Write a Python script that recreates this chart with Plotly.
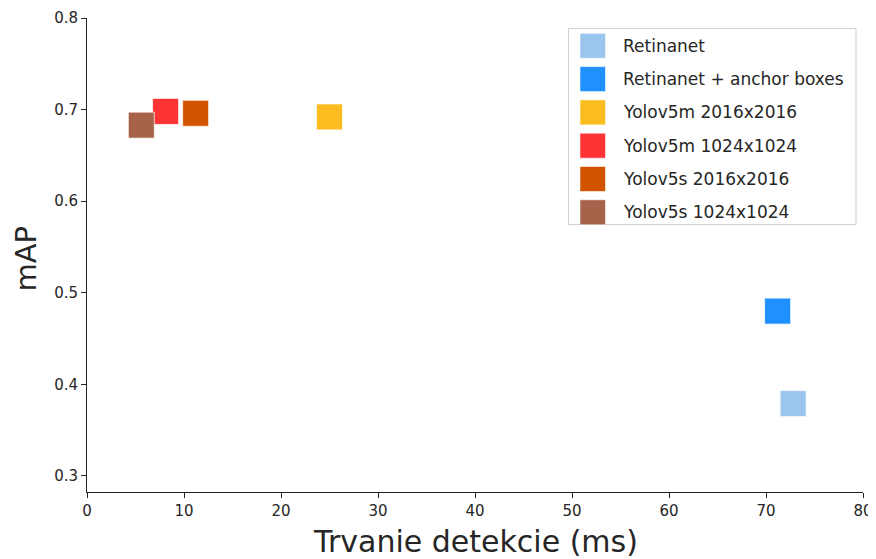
import plotly.graph_objects as go

names = ["Retinanet", "Retinanet + anchor boxes", "Yolov5m 2016x2016",
         "Yolov5m 1024x1024", "Yolov5s 2016x2016", "Yolov5s 1024x1024"]
det_time_ms = [72.8, 71.2, 25.0, 8.1, 11.2, 5.6]
map_values = [0.379, 0.480, 0.692, 0.698, 0.696, 0.683]
colors = ["#9BC5EC", "#1E90FF", "#FBBC1F", "#FF3333", "#D35400", "#A6634A"]
x_ticks = [0, 10, 20, 30, 40, 50, 60, 70, 80]
y_ticks = [0.3, 0.4, 0.5, 0.6, 0.7, 0.8]
x_title = "Trvanie detekcie (ms)"
y_title = "mAP"

# page body has an 8px margin; figure is placed at (8, 8)
OFF = 8
W, H = 876 - OFF, 559 - OFF
L, R, T, B = 87 - OFF, 13, 18 - OFF, 67
pw, ph = W - L - R, H - T - B

def px(x):
    # x in screenshot pixels -> paper coordinate
    return (x - OFF - L) / pw

def py(y):
    return (H - B - (y - OFF)) / ph

fig = go.Figure()
for n, x, y, c in zip(names, det_time_ms, map_values, colors):
    fig.add_trace(go.Scatter(
        x=[x], y=[y], mode="markers", name=n,
        marker=dict(symbol="square", size=26, color=c,
                    line=dict(width=1, color="rgba(255,255,255,0.7)")),
        showlegend=False,
    ))

shapes = [dict(type="rect", xref="paper", yref="paper",
               x0=px(568.5), x1=px(856), y0=py(224.5), y1=py(28.5),
               line=dict(color="#D0D0D0", width=1), fillcolor="white")]
annotations = []
row0, step = 45.8, 33.3
for i, (n, c) in enumerate(zip(names, colors)):
    cy = row0 + i * step
    shapes.append(dict(type="rect", xref="paper", yref="paper",
                       x0=px(580), x1=px(605.5), y0=py(cy + 12.5), y1=py(cy - 12.5),
                       line=dict(width=0.8, color="rgba(255,255,255,0.7)"), fillcolor=c))
    annotations.append(dict(xref="paper", yref="paper", x=px(621), y=py(cy),
                            xanchor="left", yanchor="middle", text=n, showarrow=False,
                            font=dict(family="DejaVu Sans", size=17, color="#262626")))

# axis titles
annotations.append(dict(xref="paper", yref="paper", x=0.5, y=py(541.5),
                        xanchor="center", yanchor="middle", text=x_title, showarrow=False,
                        borderpad=0,
                        font=dict(family="DejaVu Sans", size=30, color="#262626")))
annotations.append(dict(xref="paper", yref="paper", x=px(25.5), y=py(259),
                        xanchor="center", yanchor="middle", text=y_title, showarrow=False,
                        textangle=-90, borderpad=0,
                        font=dict(family="DejaVu Sans", size=29, color="#262626")))

fig.update_layout(
    width=W, height=H,
    margin=dict(l=L, r=R, t=T, b=B, autoexpand=False),
    paper_bgcolor="white", plot_bgcolor="white",
    font=dict(family="DejaVu Sans", color="#262626"),
    shapes=shapes, annotations=annotations,
    xaxis=dict(range=[0, 80], tickvals=x_ticks, ticktext=[str(v) for v in x_ticks],
               showgrid=False, zeroline=False, showline=True, linecolor="#222", linewidth=1,
               ticks="outside", ticklen=5, tickcolor="#222", tickfont=dict(size=15),
               automargin=False),
    yaxis=dict(range=[0.2825, 0.8], tickvals=y_ticks, ticktext=[f"{v:.1f}" for v in y_ticks],
               showgrid=False, zeroline=False, showline=True, linecolor="#222", linewidth=1,
               ticks="outside", ticklen=5, tickcolor="#222", tickfont=dict(size=15),
               automargin=False),
)
fig.write_html("out.html")
